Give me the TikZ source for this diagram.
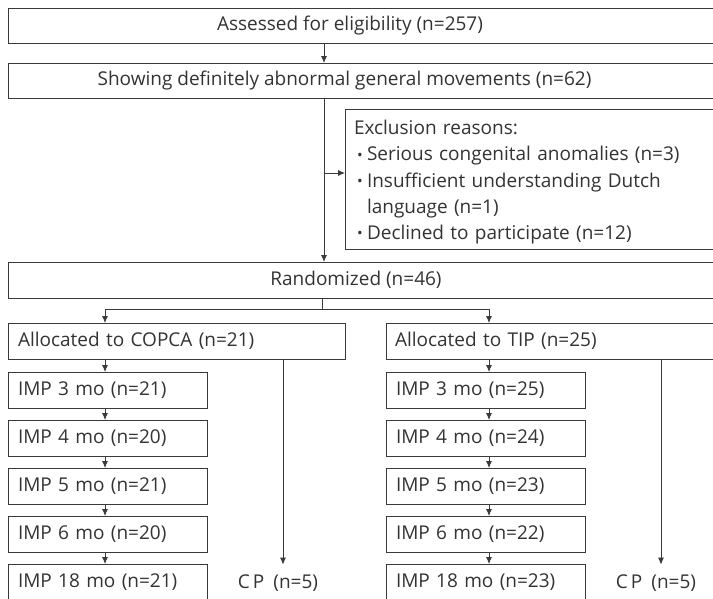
\documentclass[tikz,border=0pt]{standalone}
\usepackage{fontspec}
\setmainfont{Open Sans}
\usetikzlibrary{arrows.meta}
\definecolor{ln}{HTML}{3A3A3A}
\definecolor{tx}{HTML}{333333}
\newcommand{\bul}{\hspace*{3pt}\makebox[10pt][l]{\raisebox{0.8pt}{\fontsize{15}{15}\selectfont •}}}
\begin{document}
\begin{tikzpicture}[x=1pt,y=-1pt,
  font=\fontsize{19}{26.25}\selectfont, text=tx,
  box/.style={draw=ln, line width=0.9pt, rectangle, inner sep=0pt, outer sep=0pt, anchor=north west},
  imp/.style={box, minimum width=199pt, minimum height=36pt, text width=179pt, inner xsep=10pt, align=left},
  lbl/.style={inner sep=0pt, outer sep=0pt},
  conn/.style={draw=ln, line width=0.8pt},
  arr/.style={conn, -{Latex[length=7pt,width=6pt]}}]
\useasboundingbox (0,0) rectangle (713,598);
\clip (0,0) rectangle (713,598);
\fill[white] (0,0) rectangle (713,598);
% helper x positions
\coordinate (cx) at (324,0);
\coordinate (sx) at (322,309);
\coordinate (ex) at (324,173);
\coordinate (lx) at (105,0);
\coordinate (rx) at (489,0);
\coordinate (cpa) at (283,0);
\coordinate (cpb) at (661,0);
% top boxes
\node[box, minimum width=722pt, minimum height=35pt] (assess) at (8,8) {};
\node[lbl] (assesst) at (350,25.5) {Assessed for eligibility (n=257)};
\node[box, minimum width=722pt, minimum height=35pt] (show) at (8,63) {};
\node[lbl] (showt) at (344.5,80.5) {Showing definitely abnormal general movements (n=62)};
\node[box, minimum width=385pt, minimum height=140pt, text width=367pt, inner xsep=9pt, align=left] (excl) at (345,109)
  {\rule{0pt}{21pt}Exclusion reasons:\\
   \bul Serious congenital anomalies (n=3)\\
   \bul Insufficient understanding Dutch\\
   \hspace*{13pt}language (n=1)\\
   \bul Declined to participate (n=12)};
\node[box, minimum width=722pt, minimum height=36pt] (rand) at (8,262) {};
\node[lbl] (randt) at (356,280) {Randomized (n=46)};
% arms
\node[box, minimum width=337pt, minimum height=36pt, text width=317pt, inner xsep=10pt, align=left] (copca) at (8,323) {Allocated to COPCA (n=21)};
\node[box, minimum width=344pt, minimum height=36pt, text width=326pt, inner xsep=9pt, align=left] (tip) at (386,323) {Allocated to TIP (n=25)};
\node[imp] (L3) at (8,372) {IMP 3 mo (n=21)};
\node[imp] (L4) at (8,420) {IMP 4 mo (n=20)};
\node[imp] (L5) at (8,468) {IMP 5 mo (n=21)};
\node[imp] (L6) at (8,516) {IMP 6 mo (n=20)};
\node[imp] (L18) at (8,564) {IMP 18 mo (n=21)};
\node[imp] (R3) at (386,372) {IMP 3 mo (n=25)};
\node[imp] (R4) at (386,420) {IMP 4 mo (n=24)};
\node[imp] (R5) at (386,468) {IMP 5 mo (n=23)};
\node[imp] (R6) at (386,516) {IMP 6 mo (n=22)};
\node[imp] (R18) at (386,564) {IMP 18 mo (n=23)};
\node[lbl, outer ysep=10pt] (cpL) at (278,583) {C\hspace{3pt}P\hspace{9pt}(n=5)};
\node[lbl, outer ysep=10pt] (cpR) at (656,583) {C\hspace{3pt}P\hspace{9pt}(n=5)};
% connectors
\draw[arr] (assess.south -| cx) -- (show.north -| cx);
\draw[arr] (show.south -| cx) -- (rand.north -| cx);
\draw[arr] (ex) -- (ex -| excl.west);
\draw[conn] (rand.south -| sx) -- (sx);
\draw[arr] (sx) -| (copca.north -| lx);
\draw[arr] (sx) -| (tip.north -| rx);
\draw[arr] (copca.south -| lx) -- (L3.north -| lx);
\draw[arr] (L3.south -| lx) -- (L4.north -| lx);
\draw[arr] (L4.south -| lx) -- (L5.north -| lx);
\draw[arr] (L5.south -| lx) -- (L6.north -| lx);
\draw[arr] (L6.south -| lx) -- (L18.north -| lx);
\draw[arr] (tip.south -| rx) -- (R3.north -| rx);
\draw[arr] (R3.south -| rx) -- (R4.north -| rx);
\draw[arr] (R4.south -| rx) -- (R5.north -| rx);
\draw[arr] (R5.south -| rx) -- (R6.north -| rx);
\draw[arr] (R6.south -| rx) -- (R18.north -| rx);
\draw[arr] (copca.south -| cpa) -- (cpa |- cpL.north);
\draw[arr] (tip.south -| cpb) -- (cpb |- cpR.north);
\end{tikzpicture}
\end{document}
